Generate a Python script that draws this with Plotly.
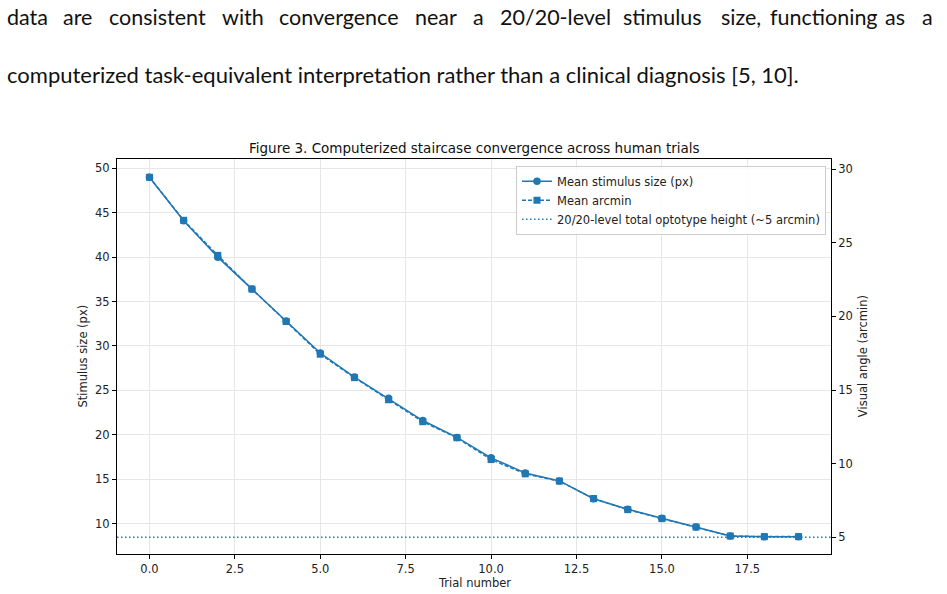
import plotly.graph_objects as go

# ---------------- data ----------------
trials = [0, 1, 2, 3, 4, 5, 6, 7, 8, 9, 10, 11, 12, 13, 14, 15, 16, 17, 18, 19]
mean_px = [49.0, 44.1, 40.0, 36.4, 32.8, 29.2, 26.5, 24.1, 21.6, 19.7,
           17.4, 15.7, 14.8, 12.8, 11.6, 10.6, 9.6, 8.6, 8.5, 8.5]
mean_arcmin = [29.44, 26.52, 24.14, 21.85, 19.65, 17.43, 15.84, 14.34, 12.85, 11.76,
               10.28, 9.31, 8.82, 7.63, 6.88, 6.27, 5.70, 5.09, 5.05, 5.05]
threshold_arcmin = 5.0
x_range = [-0.95, 19.95]
y_left_range = [6.57, 51.05]
y_right_range = [3.87, 30.68]

line1_words = ["data", "are", "consistent", "with", "convergence", "near", "a",
               "20/20-level", "stimulus", "size,", "functioning", "as", "a"]
line1_centers = [27, 77.5, 157.5, 242.5, 339, 436, 478, 555, 662, 740.5, 823.5, 895, 927.5]
line2_text = "computerized task-equivalent interpretation rather than a clinical diagnosis [5, 10]."

title = "Figure 3. Computerized staircase convergence across human trials"

# ---------------- layout geometry (pixels) ----------------
W, H = 947, 594
L, R, T, B = 116.7, 831.0, 159.0, 553.7
BLUE = "#1f77b4"
FONT = "DejaVu Sans"
DOC_FONT = "Lato"
FS = 11.5


def px_x(x):
    return (x - L) / (R - L)


def px_y(y):
    return (B - y) / (B - T)


fig = go.Figure()
fig.add_trace(go.Scatter(
    x=trials, y=mean_px, name="Mean stimulus size (px)", mode="lines+markers",
    line=dict(color=BLUE, width=1.5), marker=dict(symbol="circle", size=7.5, color=BLUE),
    yaxis="y"))
fig.add_trace(go.Scatter(
    x=trials, y=mean_arcmin, name="Mean arcmin", mode="lines+markers",
    line=dict(color=BLUE, width=1.5, dash="4px,2px"), marker=dict(symbol="square", size=7, color=BLUE),
    yaxis="y2"))
fig.add_trace(go.Scatter(
    x=x_range, y=[threshold_arcmin, threshold_arcmin],
    name="20/20-level total optotype height (~5 arcmin)", mode="lines",
    line=dict(color=BLUE, width=1.5, dash="1.5px,2.5px"), yaxis="y2"))

tickfont = dict(family=FONT, size=FS, color="#222")
fig.update_layout(
    width=W, height=H,
    margin=dict(l=L, r=W - R, t=T, b=H - B, pad=0),
    paper_bgcolor="white", plot_bgcolor="white",
    showlegend=True,
    xaxis=dict(range=x_range, tick0=0, dtick=2.5, tickformat=".1f",
               showgrid=True, gridcolor="#e6e6e6", gridwidth=1, zeroline=False,
               showline=True, linecolor="black", linewidth=1, mirror=True,
               ticks="outside", ticklen=4, tickcolor="black", tickfont=tickfont),
    yaxis=dict(range=y_left_range, tick0=0, dtick=5,
               showgrid=True, gridcolor="#e6e6e6", gridwidth=1, zeroline=False,
               showline=True, linecolor="black", linewidth=1, mirror=True,
               ticks="outside", ticklen=4, tickcolor="black", tickfont=tickfont),
    yaxis2=dict(range=y_right_range, tick0=0, dtick=5, overlaying="y", side="right",
                showgrid=False, zeroline=False, showline=True, linecolor="black", linewidth=1,
                ticks="outside", ticklen=4, tickcolor="black", tickfont=tickfont),
    legend=dict(x=px_x(826), y=px_y(165.7), xanchor="right", yanchor="top",
                bgcolor="rgba(255,255,255,0.85)", bordercolor="#cccccc", borderwidth=1,
                font=dict(family=FONT, size=FS, color="#222"),
                tracegroupgap=0, itemwidth=30),
)

ann = []
ann.append(dict(text=title, x=0.5, y=px_y(148), xref="paper", yref="paper",
                xanchor="center", yanchor="middle", showarrow=False,
                font=dict(family=FONT, size=13.5, color="#111")))
ann.append(dict(text="Trial number", x=px_x(474), y=px_y(583), xref="paper", yref="paper",
                xanchor="center", yanchor="middle", showarrow=False,
                font=dict(family=FONT, size=FS, color="#222")))
ann.append(dict(text="Stimulus size (px)", x=px_x(83), y=px_y(356), xref="paper", yref="paper",
                xanchor="center", yanchor="middle", showarrow=False, textangle=-90,
                font=dict(family=FONT, size=FS, color="#222")))
ann.append(dict(text="Visual angle (arcmin)", x=px_x(863), y=px_y(356), xref="paper", yref="paper",
                xanchor="center", yanchor="middle", showarrow=False, textangle=-90,
                font=dict(family=FONT, size=FS, color="#222")))
for w, xc in zip(line1_words, line1_centers):
    ann.append(dict(text=w, x=px_x(xc), y=px_y(17), xref="paper", yref="paper",
                    xanchor="center", yanchor="middle", showarrow=False,
                    font=dict(family=DOC_FONT, size=21.5, color="#111")))
ann.append(dict(text=line2_text, x=px_x(7), y=px_y(75), xref="paper", yref="paper",
                xanchor="left", yanchor="middle", showarrow=False, xshift=-2,
                font=dict(family=DOC_FONT, size=22, color="#111")))
fig.update_layout(annotations=ann)

fig.write_html("out.html")
